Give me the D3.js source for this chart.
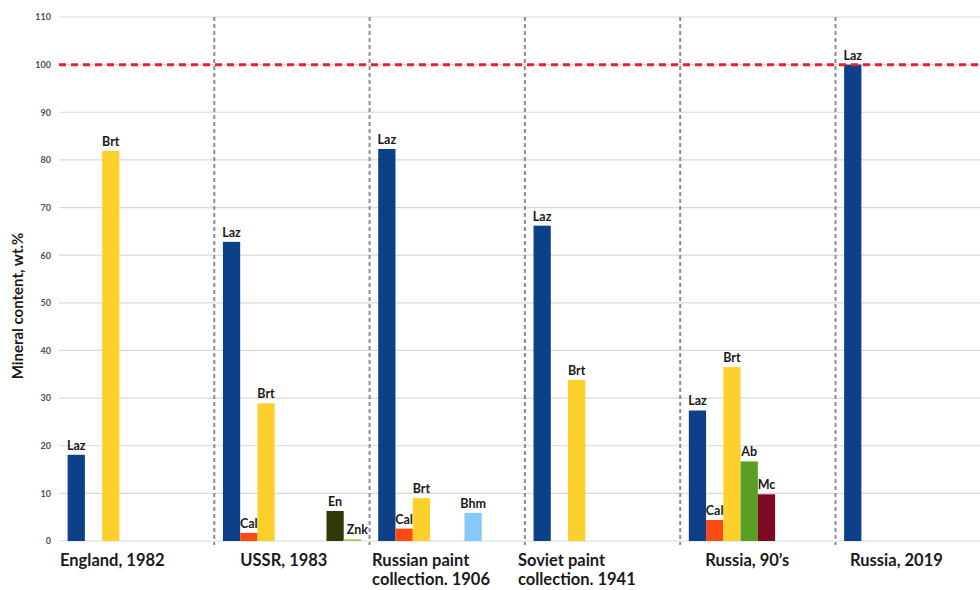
<!DOCTYPE html>
<html>
<head>
<meta charset="utf-8">
<script src="https://cdn.jsdelivr.net/npm/d3@7"></script>
<style>
  html, body { margin: 0; padding: 0; background: #fff; }
  svg { display: block; }
</style>
</head>
<body>
<svg id="chart" width="980" height="590"></svg>
<script>
// Sample groups (each label line is a separate entry)
const categories = ["England, 1982", "USSR, 1983", "Russian paint collection. 1906",
                    "Soviet paint collection. 1941", "Russia, 90\u2019s", "Russia, 2019"];
const categoryLines = [["England, 1982"], ["USSR, 1983"], ["Russian paint", "collection.  1906"],
                       ["Soviet paint", "collection. 1941"], ["Russia, 90\u2019s"], ["Russia, 2019"]];

// Minerals, in bar order inside each group
const minerals = ["Laz", "Cal", "Brt", "Ab", "Mc", "Bhm", "En", "Znk"];

// Mineral content, wt.% (null = not present)
const laz = [18.1, 62.8, 82.3, 66.2, 27.4, 100];
const cal = [null, 1.7, 2.6, null, 4.4, null];
const brt = [81.9, 28.9, 9.0, 33.8, 36.5, null];
const ab  = [null, null, null, null, 16.7, null];
const mc  = [null, null, null, null, 9.8, null];
const bhm = [null, null, 5.9, null, null, null];
const en  = [null, 6.3, null, null, null, null];
const znk = [null, 0.4, null, null, null, null];

const yTicks = [0, 10, 20, 30, 40, 50, 60, 70, 80, 90, 100, 110];
const referenceLevel = 100;

const seriesValues = { Laz: laz, Cal: cal, Brt: brt, Ab: ab, Mc: mc, Bhm: bhm, En: en, Znk: znk };
const colors = { Laz: "#0c4088", Cal: "#fc4a14", Brt: "#fdd02c", Ab: "#5a9f25",
                 Mc: "#7d0a23", Bhm: "#88c8f7", En: "#2f3c0a", Znk: "#a9d45e" };

// ---- layout ----
const svg = d3.select("#chart");
const plotLeft = 59, bandStep = 155.3;
const plotTop = 17, plotBottom = 541;
const labelDx = [1, 26, 2.5, -7, 25, 14.5];   // horizontal nudge of group captions

const y = d3.scaleLinear().domain([0, 110]).range([plotBottom, plotTop]);
const x = d3.scaleBand().domain(categories)
  .range([plotLeft, plotLeft + bandStep * categories.length]).padding(0);
const xs = d3.scaleBand().domain(minerals).range([0, x.bandwidth()])
  .paddingInner(0).paddingOuter(0.5);

// gridlines
svg.append("g").selectAll("line").data(yTicks).join("line")
  .attr("x1", plotLeft).attr("x2", 980)
  .attr("y1", d => y(d)).attr("y2", d => y(d))
  .attr("stroke", "#d9d9d9").attr("stroke-width", 1.2);

// y axis (labels only)
const yAxis = d3.axisLeft(y).tickValues(yTicks).tickSize(0).tickPadding(8);
const gy = svg.append("g").attr("transform", `translate(${plotLeft},0)`).call(yAxis);
gy.select(".domain").remove();
gy.selectAll("text").attr("font-family", "Lato, 'Open Sans', sans-serif")
  .attr("font-size", 9).attr("font-weight", 700).attr("fill", "#505050");

// group dividers
svg.append("g").selectAll("line").data(categories.slice(1)).join("line")
  .attr("x1", d => x(d)).attr("x2", d => x(d))
  .attr("y1", plotTop).attr("y2", plotBottom + 4)
  .attr("stroke", "#8c8c8c").attr("stroke-width", 2)
  .attr("stroke-dasharray", "4,3");

// bars
const barData = [];
categories.forEach((c, i) => {
  minerals.forEach(m => {
    const v = seriesValues[m][i];
    if (v != null) barData.push({ c, m, v });
  });
});

const bars = svg.append("g");
bars.selectAll("rect").data(barData).join("rect")
  .attr("x", d => x(d.c) + xs(d.m))
  .attr("width", xs.bandwidth())
  .attr("y", d => y(d.v))
  .attr("height", d => Math.max(y(0) - y(d.v), 1.5))
  .attr("fill", d => colors[d.m]);

// reference line at 100 %
svg.append("line")
  .attr("x1", plotLeft).attr("x2", 980)
  .attr("y1", y(referenceLevel)).attr("y2", y(referenceLevel))
  .attr("stroke", "#e8212b").attr("stroke-width", 3)
  .attr("stroke-dasharray", "7,5");

// mineral labels over bars
bars.selectAll("text").data(barData).join("text")
  .attr("x", d => x(d.c) + xs(d.m) + xs.bandwidth() / 2 + (d.m === "Znk" ? 5 : 0))
  .attr("y", d => y(d.v) - 5)
  .attr("text-anchor", "middle")
  .attr("font-family", "Lato, 'Open Sans', sans-serif")
  .attr("font-size", 12.5).attr("font-weight", 700).attr("fill", "#1a1a1a")
  .text(d => d.m);

// group captions
const cap = svg.append("g").selectAll("text").data(categories).join("text")
  .attr("x", (d, i) => x(d) + labelDx[i])
  .attr("y", 566)
  .attr("font-family", "Lato, 'Open Sans', sans-serif")
  .attr("font-size", 16.5).attr("font-weight", 700).attr("fill", "#1a1a1a");
cap.selectAll("tspan").data((d, i) => categoryLines[i]).join("tspan")
  .attr("x", function () { return d3.select(this.parentNode).attr("x"); })
  .attr("dy", (d, j) => j === 0 ? 0 : 19)
  .text(d => d);

// y axis title
svg.append("text")
  .attr("transform", "translate(23,306) rotate(-90)")
  .attr("text-anchor", "middle")
  .attr("font-family", "Lato, 'Open Sans', sans-serif")
  .attr("font-size", 15).attr("font-weight", 700).attr("fill", "#1a1a1a")
  .text("Mineral content, wt.%");
</script>
</body>
</html>
